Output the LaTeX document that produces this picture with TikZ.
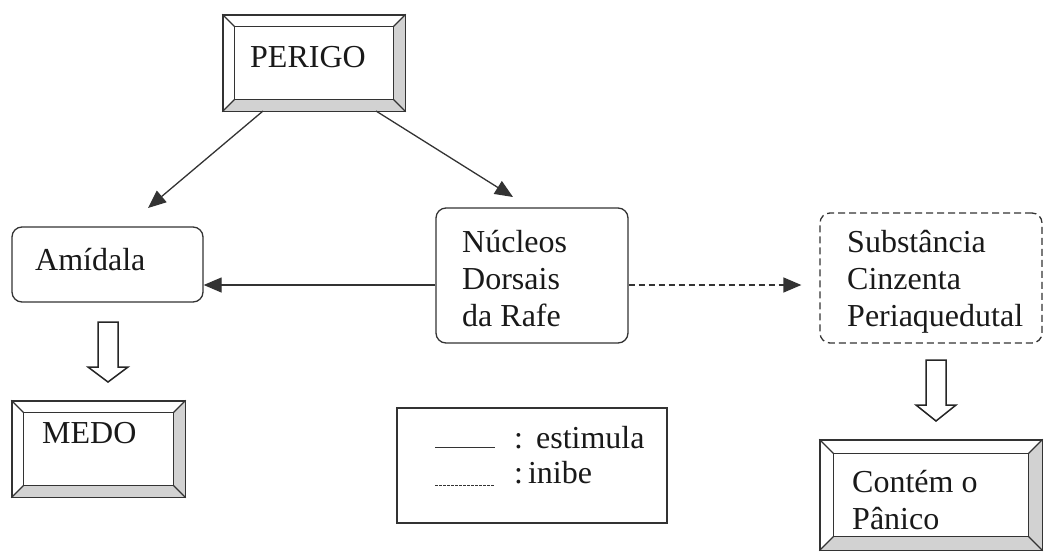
\documentclass[tikz,border=0pt]{standalone}
\usepackage{fontspec}
\setmainfont{LiberationSerif}[Extension=.ttf, UprightFont=*-Regular, BoldFont=*-Bold]
\usetikzlibrary{calc,arrows.meta}
\tikzset{
 x=1pt,y=-1pt,
 ink/.style={draw=black!80, line width=1.3pt},
 box/.style={ink, rounded corners=10pt, inner sep=0pt},
 dbox/.style={box, dash pattern=on 7pt off 4pt},
 frame/.style={ink, inner sep=0pt},
 lbl/.style={font=\fontsize{32}{37}\selectfont, inner sep=0pt, anchor=base west, text=black!90},
 arr/.style={draw=black!80, line width=1.3pt, -{Triangle[length=18pt,width=15pt]}},
 hollow/.style={draw=black!85, line width=1.5pt, fill=white, line join=miter},
 bevelfill/.style={fill=gray!35},
}
\newcommand\bevelframe[2]{%
 \coordinate (#1-inw) at ($(#1.north west)+(#2,#2)$);
 \coordinate (#1-ine) at ($(#1.north east)+(-#2,#2)$);
 \coordinate (#1-ise) at ($(#1.south east)+(-#2,-#2)$);
 \coordinate (#1-isw) at ($(#1.south west)+(#2,-#2)$);
 \fill[bevelfill] (#1.north east) -- (#1.south east) -- (#1-ise) -- (#1-ine) -- cycle;
 \fill[bevelfill] (#1.south west) -- (#1.south east) -- (#1-ise) -- (#1-isw) -- cycle;
 \draw[ink] (#1-inw) -- (#1-ine) -- (#1-ise) -- (#1-isw) -- cycle;
 \draw[ink] (#1.north west) -- (#1-inw);
 \draw[ink] (#1.north east) -- (#1-ine);
 \draw[ink] (#1.south east) -- (#1-ise);
 \draw[ink] (#1.south west) -- (#1-isw);
 \draw[ink] (#1.north west) rectangle (#1.south east);
}
\begin{document}
\begin{tikzpicture}
\useasboundingbox (0,0) rectangle (1046,552);

% framed (bevelled) boxes
\node[frame, minimum width=182pt, minimum height=96pt] (perigo) at (314,63) {};
\bevelframe{perigo}{12}
\node[frame, minimum width=173pt, minimum height=96pt] (medo) at (98.5,449) {};
\bevelframe{medo}{12}
\node[frame, minimum width=222pt, minimum height=110pt] (panico) at (931,495) {};
\bevelframe{panico}{14}

% rounded boxes
\node[box, minimum width=191pt, minimum height=75pt] (amidala) at (107.5,264.5) {};
\node[box, minimum width=192pt, minimum height=135pt] (nucleos) at (532,275.5) {};
\node[dbox, minimum width=222pt, minimum height=130pt] (substancia) at (931,278) {};

% legend box
\node[frame, minimum width=270pt, minimum height=115pt] (legenda) at (532,465.5) {};

% texts
\node[lbl] (perigo-t) at (250,67) {PERIGO};
\node[lbl] (medo-t) at (42,443) {MEDO};
\node[lbl] (panico-t) at (852,492) {\vtop{\hbox{Contém o}\hbox{Pânico}}};
\node[lbl] (amidala-t) at (35,270) {Amídala};
\node[lbl] (nucleos-t) at (462,252) {\vtop{\hbox{Núcleos}\hbox{Dorsais}\hbox{da Rafe}}};
\node[lbl] (subst-t) at (847,252) {\vtop{\hbox{Substância}\hbox{Cinzenta}\hbox{Periaquedutal}}};
\node[lbl] (leg1-t) at (514,448) {:\hspace{13pt}estimula};
\node[lbl] (leg2-t) at (514,483) {:\hspace{5pt}inibe};

% legend samples
\coordinate (ls1) at (435,447);
\coordinate (ls2) at (495,447);
\coordinate (ld1) at (435,485);
\coordinate (ld2) at (495,485);
\draw[draw=black!80, line width=0.9pt] (ls1) -- (ls2);
\draw[draw=black!80, line width=0.9pt, dash pattern=on 2.5pt off 1.5pt] (ld1) -- (ld2);

% connectors from PERIGO
\coordinate (p1) at (263,111);
\coordinate (t1) at (148,208);
\coordinate (p2) at (376,111);
\coordinate (t2) at (513,197);
\draw[arr] (p1) -- (t1);
\draw[arr] (p2) -- (t2);

% horizontal connectors
\draw[arr] (nucleos.west |- 0,285) -- (amidala.east |- 0,285);
\draw[arr, dash pattern=on 6pt off 4pt, shorten >=18pt] (nucleos.east |- 0,285) -- (substancia.west |- 0,285);

% hollow block arrows
\draw[hollow] (98,322) -- (118,322) -- (118,367) -- (128,367) -- (108,382) -- (88,367) -- (98,367) -- cycle;
\draw[hollow] (926,360) -- (946,360) -- (946,405) -- (956,405) -- (936,421) -- (916,405) -- (926,405) -- cycle;
\end{tikzpicture}
\end{document}
